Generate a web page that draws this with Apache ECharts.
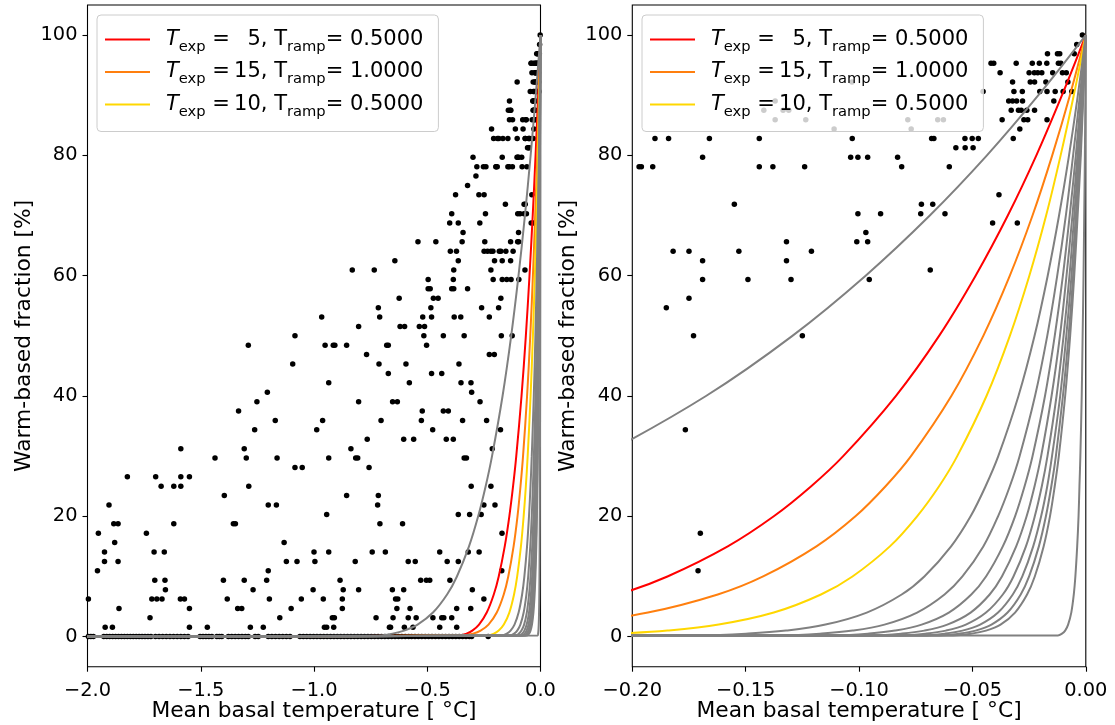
<!DOCTYPE html>
<html>
<head>
<meta charset="utf-8">
<script src="https://cdn.jsdelivr.net/npm/echarts@6/dist/echarts.min.js"></script>
<style>
  html, body { margin: 0; padding: 0; background: #fff; }
  #chart { width: 1115px; height: 725px; }
</style>
</head>
<body>
<div id="chart"></div>
<script>
// warm-based fraction (%) levels shared by every ramp curve
const levelPct = [0, 0.2, 0.5, 1, 2, 4, 7, 10, 15, 20, 25, 30, 40, 50, 60, 70, 80, 90, 100];

// temperature where each curve reaches the level above
const tempsExp5Ramp05 = [-2, -0.3558, -0.3267, -0.3010, -0.2714, -0.2374, -0.2063, -0.1845, -0.1579, -0.1376, -0.1211, -0.1070, -0.0838, -0.0647, -0.0486, -0.0344, -0.0218, -0.0105, 0];
const tempsExp15Ramp1 = [-2, -0.3393, -0.2976, -0.2644, -0.2296, -0.1931, -0.1623, -0.1423, -0.1188, -0.1016, -0.0883, -0.0771, -0.0593, -0.0452, -0.0335, -0.0235, -0.0148, -0.0070, 0];
const tempsExp10Ramp05 = [-2, -0.2314, -0.2057, -0.1845, -0.1619, -0.1376, -0.1168, -0.1029, -0.0864, -0.0744, -0.0647, -0.0567, -0.0438, -0.0335, -0.0249, -0.0175, -0.0111, -0.0053, 0];

// grey curves (the other parameter pairs that were tried)
const greyTemps = [
  [-2, -0.7115, -0.6534, -0.6019, -0.5427, -0.4747, -0.4125, -0.3690, -0.3157, -0.2752, -0.2421, -0.2140, -0.1675, -0.1294, -0.0971, -0.0688, -0.0436, -0.0209, 0],
  [-2, -0.1697, -0.1488, -0.1322, -0.1148, -0.0966, -0.0812, -0.0712, -0.0594, -0.0508, -0.0442, -0.0386, -0.0297, -0.0226, -0.0168, -0.0118, -0.0074, -0.0035, 0],
  [-2, -0.1336, -0.1164, -0.1028, -0.0888, -0.0744, -0.0623, -0.0544, -0.0452, -0.0387, -0.0335, -0.0292, -0.0224, -0.0170, -0.0126, -0.0088, -0.0056, -0.0026, 0],
  [-2, -0.1101, -0.0955, -0.0841, -0.0724, -0.0604, -0.0505, -0.0440, -0.0366, -0.0312, -0.0270, -0.0235, -0.0180, -0.0137, -0.0101, -0.0071, -0.0044, -0.0021, 0],
  [-2, -0.0936, -0.0810, -0.0712, -0.0611, -0.0508, -0.0424, -0.0370, -0.0307, -0.0261, -0.0226, -0.0197, -0.0151, -0.0114, -0.0085, -0.0059, -0.0037, -0.0018, 0],
  [-2, -0.0814, -0.0703, -0.0617, -0.0529, -0.0440, -0.0366, -0.0319, -0.0264, -0.0225, -0.0194, -0.0169, -0.0129, -0.0098, -0.0072, -0.0051, -0.0032, -0.0015, 0],
  [-2, -0.0720, -0.0620, -0.0544, -0.0466, -0.0387, -0.0322, -0.0280, -0.0232, -0.0197, -0.0170, -0.0149, -0.0113, -0.0086, -0.0063, -0.0044, -0.0028, -0.0013, 0],
  [-2, -0.0645, -0.0555, -0.0486, -0.0416, -0.0345, -0.0287, -0.0250, -0.0207, -0.0176, -0.0152, -0.0132, -0.0101, -0.0076, -0.0056, -0.0040, -0.0025, -0.0012, 0],
  [-2, -0.0584, -0.0503, -0.0440, -0.0376, -0.0312, -0.0259, -0.0225, -0.0186, -0.0158, -0.0137, -0.0119, -0.0091, -0.0069, -0.0051, -0.0036, -0.0022, -0.0011, 0],
  [-2, -0.0123, -0.0105, -0.0091, -0.0078, -0.0064, -0.0053, -0.0046, -0.0038, -0.0032, -0.0028, -0.0024, -0.0018, -0.0014, -0.0010, -0.0007, -0.0004, -0.0002, 0]
];

// observed glaciers: [mean basal temperature, warm-based fraction]
const observed = [
  [-1.333,37.5],[-1.588,31.25],[-1.437,29.69],[-1.824,26.56],[-1.699,26.56],[-1.588,26.56],[-1.55,26.56],
  [-1.675,25],[-1.619,25],[-1.588,25],[-1.396,23.44],[-1.905,21.88],
  [-1.884,18.75],[-1.865,18.75],[-1.619,18.75],[-1.356,18.75],[-1.347,18.75],
  [-1.952,17.19],[-1.74,17.19],[-1.88,15.63],[-1.925,14.06],[-1.706,14.06],[-1.661,14.06],
  [-1.925,12.5],[-1.865,12.5],[-1.956,10.94],[-1.703,9.38],[-1.658,9.38],[-1.4,9.38],[-1.656,7.81],
  [-1.996,6.25],[-1.716,6.25],[-1.694,6.25],[-1.671,6.25],[-1.59,6.25],[-1.572,6.25],[-1.383,6.25],
  [-1.861,4.69],[-1.55,4.69],[-1.337,4.69],[-1.724,3.13],[-1.922,1.56],[-1.89,1.56],[-1.55,1.56],[-1.471,1.56],
  [-1.084,50],[-1.29,48.44],[-0.951,48.44],[-0.915,48.44],[-0.908,48.44],[-0.856,48.44],[-0.679,48.44],[-0.672,48.44],
  [-0.768,46.88],[-1.094,45.31],[-0.713,45.31],[-0.672,43.75],[-0.935,42.19],[-1.206,40.63],
  [-1.252,39.06],[-0.803,39.06],[-1.171,35.94],[-0.962,35.94],[-0.704,35.94],
  [-1.262,34.38],[-0.988,34.38],[-0.765,32.81],[-1.308,31.25],[-0.837,31.25],
  [-1.299,29.69],[-1.163,29.69],[-0.935,29.69],[-0.816,29.69],[-0.807,29.69],
  [-1.084,28.13],[-1.052,28.13],[-0.757,28.13],[-1.288,25],[-0.856,23.44],[-0.716,23.44],
  [-1.202,21.88],[-1.166,21.88],[-0.719,21.88],[-0.944,20.31],[-0.709,18.75],[-1.132,15.63],
  [-1,14.06],[-0.935,14.06],[-0.743,14.06],[-0.685,14.06],
  [-1.122,12.5],[-1.075,12.5],[-0.996,12.5],[-0.818,12.5],[-1.202,10.94],
  [-1.308,9.38],[-1.209,9.38],[-0.885,9.38],[-1.269,7.81],[-1.004,7.81],[-0.871,7.81],[-0.803,7.81],
  [-1.197,6.25],[-1.056,6.25],[-0.959,6.25],[-0.875,6.25],[-1.319,4.69],[-1.101,4.69],[-0.875,4.69],
  [-1.151,3.13],[-0.919,3.13],[-0.91,3.13],[-0.726,3.13],
  [-1.281,1.56],[-1.224,1.56],[-0.954,1.56],[-0.944,1.56],[-0.913,1.56],
  [-0.515,50],[-0.429,50],[-0.337,50],[-0.503,48.44],[-0.226,46.88],[-0.204,46.88],[-0.594,45.31],[-0.36,45.31],
  [-0.481,43.75],[-0.436,43.75],[-0.579,42.19],[-0.351,42.19],[-0.307,42.19],[-0.304,40.63],
  [-0.653,39.06],[-0.632,39.06],[-0.267,39.06],[-0.522,37.5],[-0.429,37.5],[-0.407,37.5],
  [-0.526,35.94],[-0.344,35.94],[-0.238,35.94],[-0.476,34.38],
  [-0.604,32.81],[-0.56,32.81],[-0.416,32.81],[-0.385,32.81],[-0.213,31.25],
  [-0.337,29.69],[-0.327,29.69],[-0.306,25],[-0.219,25],[-0.25,21.88],[-0.201,21.88],
  [-0.363,20.31],[-0.313,20.31],[-0.262,20.31],[-0.609,18.75],[-0.445,14.06],[-0.319,14.06],[-0.271,14.06],
  [-0.584,12.5],[-0.553,12.5],[-0.412,12.5],[-0.363,12.5],[-0.529,9.38],[-0.504,9.38],[-0.489,9.38],[-0.4,9.38],
  [-0.654,7.81],[-0.604,7.81],[-0.301,7.81],[-0.64,6.25],[-0.63,6.25],[-0.25,6.25],
  [-0.634,4.69],[-0.576,4.69],[-0.37,4.69],[-0.308,4.69],
  [-0.651,3.13],[-0.584,3.13],[-0.549,3.13],[-0.475,3.13],[-0.436,3.13],[-0.427,3.13],[-0.392,3.13],
  [-0.667,1.56],[-0.662,1.56],[-0.601,1.56],[-0.563,1.56],[-0.445,1.56],[-0.37,1.56],
  [-0.298,79.69],[-0.281,78.13],[-0.252,78.13],[-0.241,78.13],[-0.285,76.56],[-0.322,75],
  [-0.375,73.44],[-0.272,73.44],[-0.249,73.44],[-0.392,70.31],[-0.243,70.31],
  [-0.401,68.75],[-0.363,68.75],[-0.268,68.75],[-0.342,67.19],
  [-0.541,65.63],[-0.462,65.63],[-0.346,65.63],[-0.246,65.63],
  [-0.398,64.06],[-0.371,64.06],[-0.249,64.06],[-0.234,64.06],[-0.219,64.06],[-0.21,64.06],
  [-0.643,62.5],[-0.363,62.5],[-0.203,62.5],[-0.383,60.94],[-0.219,60.94],
  [-0.496,59.38],[-0.385,59.38],[-0.209,59.38],
  [-0.496,57.81],[-0.487,57.81],[-0.392,57.81],[-0.383,57.81],[-0.322,57.81],
  [-0.624,56.25],[-0.473,56.25],[-0.452,56.25],[-0.484,54.69],[-0.26,54.69],
  [-0.52,53.13],[-0.481,53.13],[-0.381,53.13],[-0.352,53.13],[-0.226,53.13],
  [-0.62,51.56],[-0.6,51.56],[-0.535,51.56],[-0.512,51.56],[-0.216,84.38],[-0.207,82.81],
  [-0.831,60.94],[-0.734,60.94],[-0.716,54.69],[-0.71,53.13],[-0.966,53.13],[-0.803,51.56],
  [-0.19,82.81],[-0.184,82.81],[-0.166,82.81],[-0.144,82.81],[-0.103,82.81],
  [-0.169,79.69],[-0.1037,79.69],[-0.1005,79.69],[-0.0962,79.69],[-0.083,79.69],
  [-0.197,78.13],[-0.196,78.13],[-0.191,78.13],[-0.144,78.13],[-0.138,78.13],[-0.124,78.13],[-0.0812,78.13],[-0.0602,78.13],
  [-0.155,71.88],[-0.0725,71.88],[-0.0675,71.88],[-0.1005,70.31],[-0.0905,70.31],[-0.0728,70.31],[-0.0621,70.31],
  [-0.132,65.63],[-0.101,65.63],[-0.0962,65.63],[-0.182,64.06],[-0.175,64.06],[-0.153,64.06],[-0.121,64.06],
  [-0.169,62.5],[-0.132,62.5],[-0.169,59.38],[-0.149,59.38],[-0.13,59.38],[-0.0955,59.38],
  [-0.175,56.25],[-0.185,54.69],[-0.173,50],[-0.125,50],[-0.1766,34.38],[-0.17,17.19],[-0.171,10.94],
  [-0.137,89.06],[-0.137,85.94],[-0.142,87.5],[-0.1335,87.5],[-0.131,87.5],[-0.1235,85.94],[-0.111,84.38],[-0.1031,92.19],
  [-0.0785,85.94],[-0.077,84.38],[-0.0653,85.94],[-0.0628,85.94],
  [-0.0418,95.31],[-0.0406,95.31],[-0.0453,90.63],[-0.0378,93.75],
  [-0.0307,95.31],[-0.0236,95.31],[-0.0205,95.31],[-0.0172,95.31],[-0.0121,95.31],[-0.011,95.31],
  [-0.0169,96.88],[-0.0125,96.88],[-0.0115,96.88],[-0.0051,96.88],[-0.004,98.44],[-0.0015,100],
  [-0.025,93.75],[-0.0227,93.75],[-0.0212,93.75],[-0.0194,93.75],[-0.0146,93.75],[-0.0103,93.75],[-0.0086,93.75],
  [-0.0323,92.19],[-0.0245,92.19],[-0.0226,92.19],[-0.0176,92.19],[-0.0079,92.19],
  [-0.0317,90.63],[-0.028,90.63],[-0.0203,90.63],[-0.0171,90.63],[-0.0135,90.63],[-0.01,90.63],[-0.0062,90.63],
  [-0.034,89.06],[-0.0323,89.06],[-0.0305,89.06],[-0.0279,89.06],[-0.0141,89.06],
  [-0.0329,87.5],[-0.0297,87.5],[-0.0285,87.5],[-0.026,87.5],[-0.0226,87.5],
  [-0.0369,85.94],[-0.0273,85.94],[-0.0256,85.94],[-0.0171,85.94],
  [-0.0291,84.38],[-0.032,82.81],[-0.068,82.81],[-0.067,82.81],[-0.0533,82.81],[-0.0501,82.81],[-0.0474,82.81],
  [-0.0573,81.25],[-0.0532,81.25],[-0.0497,81.25],
  [-0.0383,73.44],[-0.0411,68.75],[-0.0302,68.75],[-0.097,67.19],[-0.0686,60.94]
];

// glaciers with no warm-based area
const fullyColdTemps = [
  -1.996, -1.985, -1.974, -1.928, -1.915, -1.902, -1.889, -1.876, -1.863, -1.85, -1.837, -1.824, -1.811, -1.798,
  -1.785, -1.772, -1.759, -1.746, -1.733, -1.72, -1.7, -1.684, -1.668, -1.652, -1.636, -1.62, -1.604, -1.588,
  -1.572, -1.556, -1.503, -1.49, -1.477, -1.464, -1.451, -1.429, -1.418, -1.407, -1.378, -1.363, -1.348, -1.333,
  -1.318, -1.303, -1.29, -1.26, -1.246, -1.202, -1.186, -1.17, -1.154, -1.138, -1.122, -1.106, -1.062, -1.047,
  -1.032, -1.017, -1.002, -0.987, -0.972, -0.957, -0.942, -0.927, -0.912, -0.897, -0.882, -0.867, -0.852, -0.837,
  -0.822, -0.807, -0.792, -0.777, -0.762, -0.747, -0.732, -0.717, -0.702, -0.687, -0.672, -0.657, -0.642, -0.627,
  -0.612, -0.597, -0.582, -0.569, -0.554, -0.539, -0.524, -0.509, -0.494, -0.479, -0.464, -0.449, -0.434, -0.419,
  -0.404, -0.389, -0.374, -0.359, -0.344, -0.329, -0.314, -0.304, -0.231
];

const yTicks = [0, 20, 40, 60, 80, 100];
const FONT = 'DejaVu Sans';

const legendLabels = {
  exp5: '{it|T}{sub|exp}{n| =\u2009\u20075, T}{sub|ramp}{n|= 0.5000}',
  exp15: '{it|T}{sub|exp}{n| =\u200915, T}{sub|ramp}{n|= 1.0000}',
  exp10: '{it|T}{sub|exp}{n| =\u200910, T}{sub|ramp}{n|= 0.5000}'
};

let chart = echarts.init(document.getElementById('chart'), null, { renderer: 'canvas' });

function fmtTick(v, digits) {
  let s = Math.abs(v).toFixed(digits);
  return v < -1e-9 ? '\u2212' + s : s;
}

function curve(name, temps, color, idx) {
  return {
    type: 'line',
    name: name,
    xAxisIndex: idx,
    yAxisIndex: idx,
    data: levelPct.map((p, i) => [temps[i], p]),
    showSymbol: false,
    symbol: 'none',
    smooth: 0.35,
    clip: true,
    silent: true,
    z: 3,
    lineStyle: { color: color, width: 2 },
    itemStyle: { color: color }
  };
}

let series = [];
[0, 1].forEach(idx => {
  series.push({
    type: 'scatter',
    xAxisIndex: idx,
    yAxisIndex: idx,
    data: observed.concat(fullyColdTemps.map(t => [t, 0])),
    symbolSize: 5.5,
    clip: true,
    silent: true,
    z: 2,
    itemStyle: { color: '#000', opacity: 1 }
  });
  series.push(curve('exp5', tempsExp5Ramp05, '#ff0000', idx));
  series.push(curve('exp15', tempsExp15Ramp1, '#ff7f0e', idx));
  series.push(curve('exp10', tempsExp10Ramp05, '#ffd700', idx));
  greyTemps.forEach(t => series.push(curve('', t, '#808080', idx)));
});

function xAxis(idx, min, step, digits) {
  return {
    type: 'value', gridIndex: idx, min: min, max: 0, interval: step,
    name: 'Mean basal temperature [ \u00b0C]', nameLocation: 'middle', nameGap: 34, nameMoveOverlap: false,
    nameTextStyle: { fontFamily: FONT, fontSize: 21.8, color: '#000' },
    axisLine: { show: false, onZero: false },
    axisTick: { show: true, length: 5, lineStyle: { color: '#000', width: 1.1 } },
    axisLabel: { fontFamily: FONT, fontSize: 19.4, color: '#000', margin: 15, formatter: v => fmtTick(v, digits) },
    splitLine: { show: false }
  };
}

function yAxis(idx) {
  return {
    type: 'value', gridIndex: idx, min: -5, max: 105,
    name: 'Warm-based fraction [%]', nameLocation: 'middle', nameGap: 52.5, nameMoveOverlap: false,
    nameTextStyle: { fontFamily: FONT, fontSize: 21.8, color: '#000' },
    axisLine: { show: false, onZero: false },
    axisTick: { show: true, length: 5, customValues: yTicks, lineStyle: { color: '#000', width: 1.1 } },
    axisLabel: { fontFamily: FONT, fontSize: 19.4, color: '#000', margin: 10, customValues: yTicks },
    splitLine: { show: false }
  };
}

function legend(left) {
  return {
    left: left, top: 15, orient: 'vertical',
    data: ['exp5', 'exp15', 'exp10'],
    icon: 'rect', itemWidth: 45, itemHeight: 2, itemGap: 7,
    padding: [14, 15, 12, 8],
    backgroundColor: 'rgba(255,255,255,0.8)',
    borderColor: '#cccccc', borderWidth: 1, borderRadius: 4,
    selectedMode: false,
    formatter: name => legendLabels[name],
    textStyle: {
      fontFamily: FONT, fontSize: 21, color: '#000', padding: [0, 0, 0, 11],
      rich: {
        it: { fontFamily: FONT, fontStyle: 'italic', fontSize: 21, lineHeight: 30, color: '#000' },
        n: { fontFamily: FONT, fontSize: 21, lineHeight: 30, color: '#000' },
        sub: { fontFamily: FONT, fontSize: 14.7, lineHeight: 15, verticalAlign: 'bottom', color: '#000' }
      }
    }
  };
}

const gridBase = { top: 5, height: 661.7, show: true, borderColor: '#000', borderWidth: 1.1, backgroundColor: 'transparent', outerBoundsMode: 'none', containLabel: false };

chart.setOption({
  animation: false,
  backgroundColor: '#fff',
  grid: [
    Object.assign({ left: 87.5, width: 453 }, gridBase),
    Object.assign({ left: 632.3, width: 453.5 }, gridBase)
  ],
  xAxis: [xAxis(0, -2, 0.5, 1), xAxis(1, -0.2, 0.05, 2)],
  yAxis: [yAxis(0), yAxis(1)],
  legend: [legend(97), legend(642)],
  series: series
});
</script>
</body>
</html>
